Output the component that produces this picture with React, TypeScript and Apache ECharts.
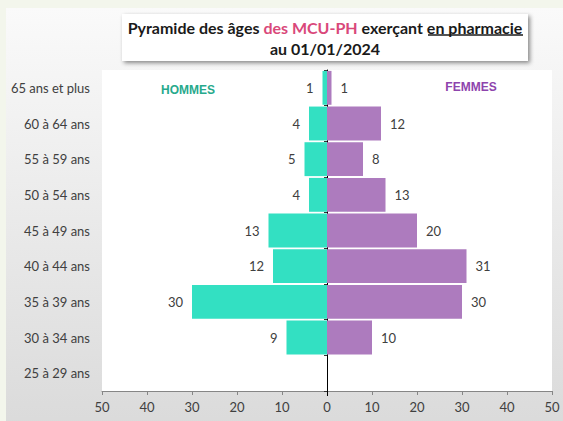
import React, { useEffect, useRef } from "react";
import * as echarts from "echarts";

const categories = [
  "65 ans et plus",
  "60 à 64 ans",
  "55 à 59 ans",
  "50 à 54 ans",
  "45 à 49 ans",
  "40 à 44 ans",
  "35 à 39 ans",
  "30 à 34 ans",
  "25 à 29 ans",
];
const hommes = [1, 4, 5, 4, 13, 12, 30, 9, 0];
const femmes = [1, 12, 8, 13, 20, 31, 30, 10, 0];
const xTicks = { min: -50, max: 50, interval: 10 };

const FONT = "Lato, 'Noto Sans', sans-serif";
const TXT = "#404040";

export default function App() {
  const ref = useRef<HTMLDivElement>(null);
  useEffect(() => {
    if (!ref.current) return;
    const chart = echarts.init(ref.current, null, { renderer: "svg" });
    const abs = (v: any) => {
      const n = Math.abs(Number(typeof v === "object" ? v.value : v));
      return n === 0 ? "" : String(n);
    };
    chart.setOption({
      animation: false,
      backgroundColor: "#f3f6ec",
      textStyle: { fontFamily: FONT },
      grid: { left: 102, right: 11, top: 70, bottom: 30 },
      graphic: [
        {
          type: "rect",
          z: -10,
          shape: { x: 6, y: 8, width: 600, height: 450 },
          style: {
            fill: new echarts.graphic.LinearGradient(0, 0, 0, 1, [
              { offset: 0, color: "#fafafa" },
              { offset: 1, color: "#d8d8d8" },
            ]),
          },
        },
        {
          type: "rect",
          z: -9,
          shape: { x: 102, y: 70, width: 450, height: 321 },
          style: { fill: "#ffffff" },
        },
        {
          type: "rect",
          z: 10,
          shape: { x: 122, y: 14, width: 406, height: 47 },
          style: {
            fill: "#ffffff",
            shadowBlur: 4,
            shadowOffsetX: 2,
            shadowOffsetY: 2,
            shadowColor: "rgba(0,0,0,0.45)",
          },
        },
        {
          type: "text",
          z: 11,
          x: 325,
          y: 37.5,
          style: {
            text: "{b|Pyramide des âges }{p|des MCU-PH}{b| exerçant en pharmacie}\n{b|au 01/01/2024}",
            align: "center",
            verticalAlign: "middle",
            lineHeight: 21,
            rich: {
              b: { fontFamily: FONT, fontWeight: "bold", fontSize: 16, fill: "#1a1a1a", lineHeight: 21 },
              p: { fontFamily: FONT, fontWeight: "bold", fontSize: 16, fill: "#d9487a", lineHeight: 21 },
            },
          },
        },
        {
          type: "line",
          z: 11,
          shape: { x1: 428, y1: 35, x2: 523, y2: 35 },
          style: { stroke: "#1a1a1a", lineWidth: 1.3 },
        },
        {
          type: "text",
          z: 11,
          x: 188,
          y: 90,
          style: {
            text: "HOMMES",
            align: "center",
            verticalAlign: "middle",
            fontFamily: "'Liberation Sans', Arial, sans-serif",
            fontWeight: "bold",
            fontSize: 12,
            fill: "#27a98c",
          },
        },
        {
          type: "text",
          z: 11,
          x: 471,
          y: 87,
          style: {
            text: "FEMMES",
            align: "center",
            verticalAlign: "middle",
            fontFamily: "'Liberation Sans', Arial, sans-serif",
            fontWeight: "bold",
            fontSize: 12,
            fill: "#8e44ad",
          },
        },
        {
          type: "line",
          z: 5,
          shape: { x1: 327.5, y1: 391, x2: 327.5, y2: 396 },
          style: { stroke: "#000", lineWidth: 1 },
        },
      ],
      xAxis: {
        type: "value",
        min: xTicks.min,
        max: xTicks.max,
        interval: xTicks.interval,
        splitLine: { show: false },
        axisLine: { show: true, lineStyle: { color: "#868686" } },
        axisTick: { show: true, length: 4, lineStyle: { color: "#868686" } },
        axisLabel: {
          color: TXT,
          fontSize: 13,
          fontFamily: FONT,
          margin: 9,
          formatter: (v: number) => String(Math.abs(v)),
        },
      },
      yAxis: [
        {
          type: "category",
          inverse: true,
          data: categories,
          position: "left",
          axisLine: { show: false, onZero: false },
          axisTick: { show: false },
          axisLabel: { color: TXT, fontSize: 13, fontFamily: FONT, margin: 12 },
        },
        {
          type: "category",
          inverse: true,
          data: categories,
          position: "left",
          axisLine: { show: true, onZero: true, lineStyle: { color: "#000", width: 1 } },
          axisTick: { show: true, length: 3, lineStyle: { color: "#333" } },
          axisLabel: { show: false },
        },
      ],
      series: [
        {
          name: "Hommes",
          type: "bar",
          stack: "total",
          yAxisIndex: 0,
          barCategoryGap: "5%",
          data: hommes.map((v) => -v),
          itemStyle: { color: "#33e0c2" },
          label: {
            show: true,
            position: "left",
            distance: 9,
            color: TXT,
            fontSize: 13,
            fontFamily: FONT,
            formatter: (p: any) => abs(p.value),
          },
        },
        {
          name: "Femmes",
          type: "bar",
          stack: "total",
          yAxisIndex: 0,
          barCategoryGap: "5%",
          data: femmes,
          itemStyle: { color: "#ad7bbe" },
          label: {
            show: true,
            position: "right",
            distance: 9,
            color: TXT,
            fontSize: 13,
            fontFamily: FONT,
            formatter: (p: any) => abs(p.value),
          },
        },
      ],
    });
    return () => chart.dispose();
  }, []);
  return (
    <div
      ref={ref}
      style={{ position: "absolute", left: 0, top: 0, width: 563, height: 421 }}
    />
  );
}
